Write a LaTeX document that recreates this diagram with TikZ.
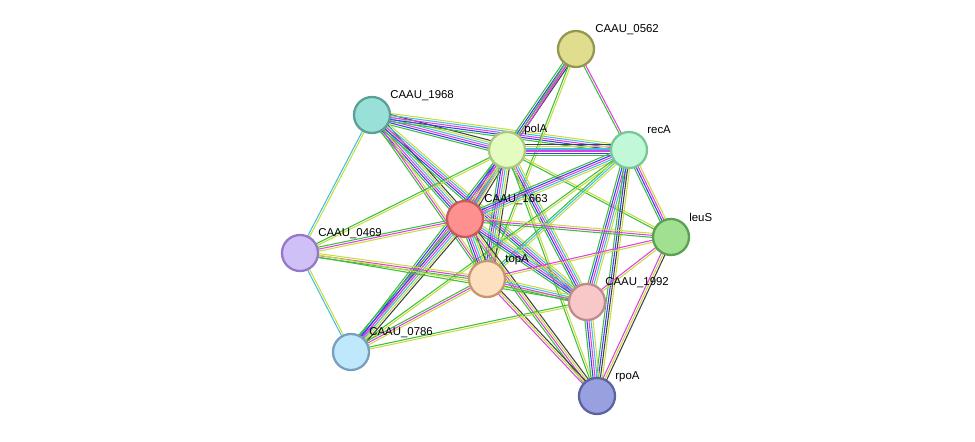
\documentclass[tikz,border=0pt]{standalone}
\usepackage{fontspec}
\setmainfont{Liberation Sans}
\usetikzlibrary{calc}
\definecolor{cg}{HTML}{3CBF3C}
\definecolor{cb}{HTML}{3C3CF0}
\definecolor{cm}{HTML}{E040E0}
\definecolor{cc}{HTML}{40C0E0}
\definecolor{cy}{HTML}{C8DC40}
\definecolor{ck}{HTML}{404040}
\tikzset{
 nd/.style={circle,draw,line width=1.3pt,minimum size=20.5pt,inner sep=0pt},
 lbl/.style={anchor=west,inner sep=0pt,font=\fontsize{6.5}{8}\selectfont},
 ed/.style={line width=0.6pt}
}
\newcommand\E[3]{%
 \gdef\nn{0}\foreach \c in {#3}{\pgfmathparse{int(\nn+1)}\xdef\nn{\pgfmathresult}}%
 \foreach \c [count=\i] in {#3}{\pgfmathsetmacro\d{(\i-1-(\nn-1)/2)*1.15}%
 \draw[ed,draw=\c] ($(#1)!\d pt!90:(#2)$) -- ($(#2)!\d pt!-90:(#1)$);}}
\begin{document}
\begin{tikzpicture}[x=0.02cm,y=-0.02cm]
\useasboundingbox (0,0) rectangle (975,442);
\coordinate (a0562) at (576,49);
\coordinate (a1968) at (372,115);
\coordinate (polA) at (507,150);
\coordinate (recA) at (629,150);
\coordinate (a1663) at (465,219);
\coordinate (leuS) at (671,237);
\coordinate (a0469) at (300,253);
\coordinate (topA) at (487,279);
\coordinate (a1992) at (587,302);
\coordinate (a0786) at (351,352);
\coordinate (rpoA) at (597,396);
\E{a1968}{polA}{cg,cb,cm,cc,cy,ck}
\E{a1968}{recA}{cg,cb,cm,cc,cy}
\E{a1968}{a1663}{cg,cb,cm,cc,cy,ck}
\E{a1968}{topA}{cg,cm,cy}
\E{a1968}{a1992}{cg,cb,cm,cc,cy}
\E{a1968}{a0469}{cc,cy}
\E{a0469}{a0786}{cc,cy}
\E{a0562}{polA}{cg,cb,cm,ck}
\E{a0562}{recA}{cg,cm}
\E{a0562}{a1663}{cg,cm}
\E{a0562}{topA}{cg,cy}
\E{polA}{recA}{cg,cb,cm,cc,cy,ck}
\E{polA}{a1663}{cg,cb,cm,cc,cy,ck}
\E{polA}{topA}{cg,cb,cm,cc,cy,ck}
\E{polA}{a1992}{cg,cb,cm,cc,cy}
\E{polA}{leuS}{cg,cy}
\E{polA}{a0469}{cg,cy}
\E{polA}{a0786}{cg,cb,cm,cy}
\E{polA}{rpoA}{cg,cy}
\E{recA}{a1663}{cg,cb,cm,cc,cy}
\E{recA}{topA}{cg,cc,cy}
\E{recA}{a1992}{cg,cb,cm,cc,cy}
\E{recA}{leuS}{cg,cb,cm,cy}
\E{recA}{rpoA}{cg,cb,ck,cy}
\E{recA}{a0786}{cg,cy}
\E{a1663}{leuS}{cg,cm,cy}
\E{a1663}{a0469}{cg,cm,cy}
\E{a1663}{topA}{cg,cb,cm,cc,cy,ck}
\E{a1663}{a1992}{cg,cb,cm,cc,cy}
\E{a1663}{a0786}{cg,cb,cm,cc,cy,ck}
\E{a1663}{rpoA}{cg,cm,cy,ck}
\E{leuS}{topA}{cm,cy}
\E{leuS}{a1992}{cm,cy}
\E{leuS}{rpoA}{cm,cy,ck}
\E{a0469}{topA}{cg,cm,cy}
\E{a0469}{a1992}{cg,cy}
\E{topA}{a1992}{cg,cm,cc,cy}
\E{topA}{a0786}{cg,cm,cy}
\E{topA}{rpoA}{cm,cy,ck}
\E{a1992}{a0786}{cg,cy}
\E{a1992}{rpoA}{cg,cb,cm,cc,cy}
\node[nd,fill={rgb,255:red,224;green,222;blue,142},draw={rgb,255:red,150;green,150;blue,80}] (n0562) at (a0562) {};
\node[nd,fill={rgb,255:red,152;green,224;blue,216},draw={rgb,255:red,90;green,160;blue,150}] (n1968) at (a1968) {};
\node[nd,fill={rgb,255:red,228;green,252;blue,192},draw={rgb,255:red,170;green,200;blue,130}] (npolA) at (polA) {};
\node[nd,fill={rgb,255:red,192;green,248;blue,216},draw={rgb,255:red,120;green,200;blue,150}] (nrecA) at (recA) {};
\node[nd,fill={rgb,255:red,255;green,144;blue,144},draw={rgb,255:red,200;green,90;blue,90}] (n1663) at (a1663) {};
\node[nd,fill={rgb,255:red,160;green,224;blue,144},draw={rgb,255:red,90;green,160;blue,80}] (nleuS) at (leuS) {};
\node[nd,fill={rgb,255:red,208;green,192;blue,248},draw={rgb,255:red,150;green,120;blue,200}] (n0469) at (a0469) {};
\node[nd,fill={rgb,255:red,253;green,224;blue,192},draw={rgb,255:red,200;green,150;blue,110}] (ntopA) at (topA) {};
\node[nd,fill={rgb,255:red,248;green,200;blue,200},draw={rgb,255:red,190;green,140;blue,140}] (n1992) at (a1992) {};
\node[nd,fill={rgb,255:red,192;green,232;blue,252},draw={rgb,255:red,120;green,160;blue,190}] (n0786) at (a0786) {};
\node[nd,fill={rgb,255:red,152;green,160;blue,224},draw={rgb,255:red,90;green,100;blue,160}] (nrpoA) at (rpoA) {};
\node[lbl] (l0562) at (595,30) {CAAU\_0562};
\node[lbl] (l1968) at (390,96) {CAAU\_1968};
\node[lbl] (lpolA) at (524,130) {polA};
\node[lbl] (lrecA) at (647,130) {recA};
\node[lbl] (l1663) at (484,200) {CAAU\_1663};
\node[lbl] (lleuS) at (689,217) {leuS};
\node[lbl] (l0469) at (318,234) {CAAU\_0469};
\node[lbl] (ltopA) at (505,260) {topA};
\node[lbl] (l1992) at (605,283) {CAAU\_1992};
\node[lbl] (l0786) at (369,333) {CAAU\_0786};
\node[lbl] (lrpoA) at (615,377) {rpoA};
\end{tikzpicture}
\end{document}
